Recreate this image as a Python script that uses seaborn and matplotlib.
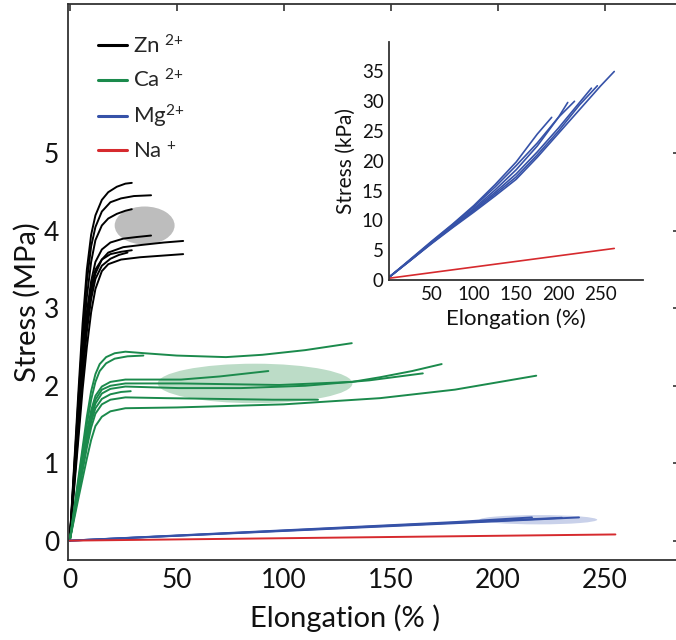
import numpy as np
import pandas as pd
import matplotlib
matplotlib.use("Agg")
import matplotlib.pyplot as plt
from matplotlib.patches import Ellipse
from matplotlib.lines import Line2D
import seaborn as sns

# ---------------- data: stress-strain curves (elongation %, stress MPa) ----------------
zn_curves = [
    ([0, 2, 4, 6, 8, 10, 12, 15, 18, 22, 26, 29],
     [0, 0.95, 1.9, 2.8, 3.5, 3.95, 4.2, 4.4, 4.5, 4.57, 4.61, 4.62]),
    ([0, 2, 4, 6, 8, 10, 12, 15, 19, 24, 30, 38],
     [0, 0.9, 1.8, 2.65, 3.35, 3.8, 4.05, 4.25, 4.37, 4.42, 4.45, 4.46]),
    ([0, 2, 4, 6, 8, 10, 12, 15, 18, 22, 26, 29],
     [0, 0.85, 1.7, 2.5, 3.15, 3.6, 3.88, 4.07, 4.16, 4.22, 4.26, 4.28]),
    ([0, 2, 4, 6, 8, 10, 12, 15, 19, 25, 31, 38],
     [0, 0.8, 1.6, 2.35, 2.95, 3.35, 3.6, 3.76, 3.85, 3.9, 3.92, 3.94]),
    ([0, 2, 4, 6, 8, 10, 12, 15, 18, 25, 34, 44, 53],
     [0, 0.75, 1.5, 2.2, 2.8, 3.2, 3.45, 3.63, 3.72, 3.79, 3.82, 3.85, 3.87]),
    ([0, 2, 4, 6, 8, 10, 12, 15, 19, 24, 29],
     [0, 0.8, 1.58, 2.3, 2.9, 3.28, 3.5, 3.63, 3.7, 3.73, 3.75]),
    ([0, 2, 4, 6, 8, 10, 12, 15, 18, 24, 33, 43, 53],
     [0, 0.65, 1.3, 1.95, 2.5, 2.95, 3.25, 3.48, 3.57, 3.63, 3.66, 3.68, 3.70]),
    ([0, 2, 4, 6, 8, 10, 12, 15, 19, 23, 27],
     [0, 0.7, 1.4, 2.1, 2.7, 3.12, 3.38, 3.55, 3.64, 3.69, 3.72]),
]

ca_curves = [
    ([0, 2, 4, 6, 8, 10, 12, 14, 17, 21, 26, 35, 50, 73, 90, 110, 131.8],
     [0, 0.4, 0.8, 1.2, 1.6, 1.93, 2.15, 2.28, 2.37, 2.42, 2.44, 2.42, 2.39, 2.37, 2.40, 2.46, 2.55]),
    ([0, 2, 4, 6, 8, 10, 12, 14, 17, 21, 27, 34.4],
     [0, 0.38, 0.76, 1.14, 1.5, 1.82, 2.05, 2.19, 2.29, 2.35, 2.38, 2.39]),
    ([0, 2, 4, 6, 8, 10, 12, 15, 19, 26, 40, 52, 70, 92.8],
     [0, 0.35, 0.7, 1.05, 1.4, 1.68, 1.87, 1.99, 2.05, 2.08, 2.08, 2.08, 2.12, 2.19]),
    ([0, 2, 4, 6, 8, 10, 12, 15, 19, 26, 52, 98, 132, 145, 160, 173.8],
     [0, 0.34, 0.68, 1.02, 1.35, 1.63, 1.82, 1.95, 2.0, 2.03, 2.03, 2.01, 2.05, 2.11, 2.19, 2.28]),
    ([0, 2, 4, 6, 8, 10, 12, 15, 19, 26, 51, 80, 110, 140, 165],
     [0, 0.33, 0.66, 0.99, 1.3, 1.58, 1.77, 1.9, 1.96, 1.99, 1.97, 1.97, 2.0, 2.07, 2.16]),
    ([0, 2, 4, 6, 8, 10, 12, 15, 19, 24, 28.5],
     [0, 0.32, 0.64, 0.96, 1.27, 1.53, 1.71, 1.83, 1.89, 1.92, 1.93]),
    ([0, 2, 4, 6, 8, 10, 12, 15, 19, 26, 45, 70, 95, 116],
     [0, 0.3, 0.6, 0.9, 1.2, 1.46, 1.64, 1.76, 1.82, 1.85, 1.84, 1.83, 1.82, 1.82]),
    ([0, 2, 4, 6, 8, 10, 12, 15, 19, 26, 50, 100, 145, 180, 218],
     [0, 0.27, 0.54, 0.8, 1.06, 1.3, 1.48, 1.6, 1.67, 1.71, 1.72, 1.76, 1.84, 1.95, 2.13]),
]

mg_curves = [
    ([0, 60, 120, 180, 238], [0, 0.075, 0.15, 0.225, 0.30]),
    ([0, 60, 120, 180, 216], [0, 0.08, 0.16, 0.24, 0.30]),
    ([0, 60, 120, 180, 230], [0, 0.077, 0.155, 0.232, 0.295]),
]

na_curves = [
    ([0, 255], [0, 0.08]),
]

# inset: hydrogel stress in kPa
mg_kpa_curves = [
    ([0, 25, 50, 75, 100, 125, 150, 175, 192],
     [0.5, 3.5, 6.5, 9.4, 12.5, 16.0, 19.8, 24.5, 27.3]),
    ([0, 25, 50, 75, 100, 125, 150, 175, 200, 219],
     [0.5, 3.4, 6.4, 9.3, 12.3, 15.6, 19.2, 23.0, 27.3, 30.0]),
    ([0, 25, 50, 75, 100, 125, 150, 175, 200, 211],
     [0.5, 3.4, 6.3, 9.1, 12.0, 15.1, 18.5, 22.5, 27.3, 29.8]),
    ([0, 25, 50, 75, 100, 125, 150, 175, 200, 225, 239],
     [0.5, 3.3, 6.2, 9.0, 11.8, 14.7, 17.8, 21.5, 25.5, 29.8, 32.2]),
    ([0, 25, 50, 75, 100, 125, 150, 175, 200, 225, 246],
     [0.5, 3.3, 6.2, 8.9, 11.6, 14.4, 17.3, 21.0, 25.0, 29.4, 32.6]),
    ([0, 25, 50, 75, 100, 125, 150, 175, 200, 225, 250, 266],
     [0.5, 3.3, 6.1, 8.8, 11.4, 14.1, 16.9, 20.6, 24.6, 28.6, 32.6, 35.0]),
]
na_kpa_curves = [
    ([0, 266], [0.3, 5.3]),
]

# spread of fracture points (center elongation, center stress, width, height)
zn_cloud = (35, 4.07, 28, 0.49)
ca_cloud = (86.6, 2.03, 91, 0.51)
mg_cloud = (219, 0.27, 55, 0.12)

ions = ["Zn", "Ca", "Mg", "Na"]
ion_labels = [r"Zn $^{\text{2+}}$", r"Ca $^{\text{2+}}$", r"Mg$^{\text{2+}}$", r"Na $^{\text{+}}$"]
colors = {"Zn": "#000000", "Ca": "#1b8a4c", "Mg": "#3652a8", "Na": "#d62a2e"}
cloud_colors = {"Zn": "#bdbdbd", "Ca": "#bcdcc7", "Mg": "#c9d1ea"}


def to_frame(groups):
    rows = []
    for ion, curves in groups:
        for k, (xs, ys) in enumerate(curves):
            for x, y in zip(xs, ys):
                rows.append((ion, f"{ion}{k}", x, y))
    return pd.DataFrame(rows, columns=["ion", "curve", "elongation", "stress"])


main_df = to_frame([("Zn", zn_curves), ("Ca", ca_curves),
                    ("Mg", mg_curves), ("Na", na_curves)])
inset_df = to_frame([("Mg", mg_kpa_curves), ("Na", na_kpa_curves)])

# ---------------- style ----------------
sns.set_theme(style="white")
FONT = "Lato"
plt.rcParams["font.family"] = [FONT, "DejaVu Sans"]
plt.rcParams["mathtext.fontset"] = "custom"
plt.rcParams["mathtext.rm"] = FONT
plt.rcParams["mathtext.it"] = FONT
plt.rcParams["mathtext.bf"] = FONT
plt.rcParams["axes.edgecolor"] = "#333333"
plt.rcParams["axes.linewidth"] = 1.3

fig = plt.figure(figsize=(6.76, 6.40), dpi=100)

# ---------------- main axes ----------------
ax = fig.add_axes([67.6 / 676, 80 / 640, 612 / 676, 556 / 640])
for ion in ["Zn", "Ca", "Mg"]:
    cx, cy, w, h = {"Zn": zn_cloud, "Ca": ca_cloud, "Mg": mg_cloud}[ion]
    ax.add_patch(Ellipse((cx, cy), w, h, facecolor=cloud_colors[ion],
                         edgecolor="none", zorder=1))

sns.lineplot(data=main_df, x="elongation", y="stress", hue="ion",
             units="curve", estimator=None, sort=False, palette=colors,
             hue_order=ions, linewidth=1.4, legend=False, ax=ax, zorder=2)

ax.set_xlim(-1, 285)
ax.set_ylim(-0.25, 6.93)
ax.set_xticks([0, 50, 100, 150, 200, 250])
ax.set_yticks([0, 1, 2, 3, 4, 5])
ax.tick_params(direction="in", length=5, width=1.2, top=True, right=True,
               labelsize=19, colors="#333333", labelcolor="#111111", pad=6)
ax.set_xlabel("Elongation (% )", fontsize=21, color="#111111", labelpad=8)
ax.set_ylabel("Stress (MPa)", fontsize=21, color="#111111", labelpad=2)
ax.xaxis.label.set_x(0.453)
ax.yaxis.label.set_y(0.464)

handles = [Line2D([], [], color=colors[i], lw=2.2) for i in ions]
ax.legend(handles, ion_labels, loc="upper left", bbox_to_anchor=(0.035, 0.962),
          frameon=False, fontsize=16, handlelength=1.3, handletextpad=0.3,
          labelspacing=0.5, borderaxespad=0)

# ---------------- inset ----------------
ins = fig.add_axes([389.3 / 676, 360 / 640, 253.7 / 676, 238.3 / 640])
sns.lineplot(data=inset_df, x="elongation", y="stress", hue="ion",
             units="curve", estimator=None, sort=False, palette=colors,
             hue_order=["Mg", "Na"], linewidth=1.2, legend=False, ax=ins)
ins.set_xlim(0, 300)
ins.set_ylim(0, 40)
ins.set_xticks([50, 100, 150, 200, 250])
ins.set_yticks([0, 5, 10, 15, 20, 25, 30, 35])
ins.spines["top"].set_visible(False)
ins.spines["right"].set_visible(False)
ins.tick_params(direction="in", length=4, width=1.1, labelsize=13.5,
                colors="#333333", labelcolor="#111111", pad=4)
ins.set_xlabel("Elongation (%)", fontsize=16, color="#111111", labelpad=4)
ins.set_ylabel("Stress (kPa)", fontsize=15, color="#111111", labelpad=4)
ins.patch.set_alpha(0)

fig.savefig("out.png", dpi=100)
